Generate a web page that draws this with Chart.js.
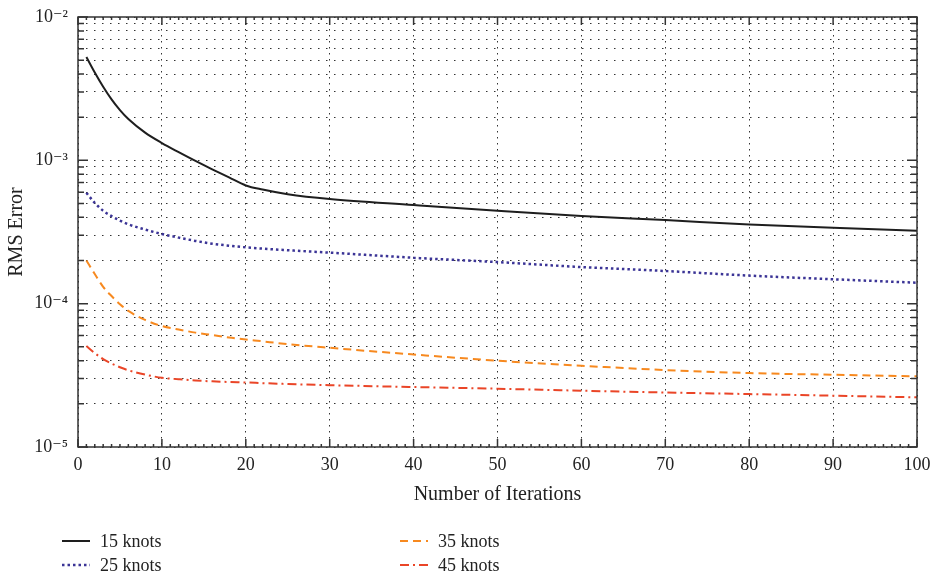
<!DOCTYPE html>
<html>
<head>
<meta charset="utf-8">
<title>RMS Error vs Number of Iterations</title>
<script src="https://cdn.jsdelivr.net/npm/chart.js"></script>
<style>
  body { margin: 0; background: #fff; }
  .wrap { position: relative; width: 935px; height: 579px; }
  .legend { position: absolute; left: 0; top: 0; width: 935px; height: 579px; pointer-events: none;
            font-family: "Liberation Serif", "DejaVu Serif", serif; font-size: 18px; color: #222; }
  .legend .item { position: absolute; display: flex; align-items: center; white-space: nowrap; }
  .legend svg { margin-right: 10px; }
</style>
</head>
<body>
<div class="wrap">
  <canvas id="rmsChart"></canvas>
  <div class="legend" id="legend"></div>
</div>
<script>
/* eslint-disable*/

const iterations = [1, 2, 3, 4, 5, 6, 8, 10, 12, 14, 16, 18, 20, 22, 25, 30, 40, 50, 60, 70, 80, 90, 100];

const knots15 = [5.26e-3, 4.1e-3, 3.26e-3, 2.66e-3, 2.24e-3, 1.94e-3, 1.56e-3, 1.32e-3, 1.14e-3, 0.99e-3, 0.865e-3, 0.76e-3, 0.668e-3, 0.625e-3, 0.58e-3, 0.537e-3, 0.488e-3, 0.445e-3, 0.409e-3, 0.383e-3, 0.357e-3, 0.338e-3, 0.323e-3];
const knots25 = [5.94e-4, 5.04e-4, 4.45e-4, 4.08e-4, 3.8e-4, 3.58e-4, 3.29e-4, 3.06e-4, 2.89e-4, 2.74e-4, 2.62e-4, 2.54e-4, 2.47e-4, 2.42e-4, 2.36e-4, 2.27e-4, 2.09e-4, 1.95e-4, 1.8e-4, 1.69e-4, 1.57e-4, 1.48e-4, 1.4e-4];
const knots35 = [2.0e-4, 1.61e-4, 1.31e-4, 1.13e-4, 9.9e-5, 8.9e-5, 7.7e-5, 6.98e-5, 6.6e-5, 6.28e-5, 6.04e-5, 5.8e-5, 5.63e-5, 5.46e-5, 5.22e-5, 4.92e-5, 4.42e-5, 4.0e-5, 3.69e-5, 3.44e-5, 3.28e-5, 3.19e-5, 3.11e-5];
const knots45 = [5.06e-5, 4.52e-5, 4.1e-5, 3.82e-5, 3.6e-5, 3.43e-5, 3.2e-5, 3.04e-5, 2.97e-5, 2.91e-5, 2.87e-5, 2.84e-5, 2.82e-5, 2.79e-5, 2.75e-5, 2.7e-5, 2.62e-5, 2.55e-5, 2.47e-5, 2.4e-5, 2.34e-5, 2.28e-5, 2.22e-5];

const seriesLabels = ['15 knots', '25 knots', '35 knots', '45 knots'];

const yTickValues = [1e-5, 1e-4, 1e-3, 1e-2];
const yTickLabels = ['10⁻⁵', '10⁻⁴', '10⁻³', '10⁻²'];

const serif = '"Liberation Serif", "DejaVu Serif", serif';

const styles = [
  { color: '#1e1e1e', dash: [], width: 2 },
  { color: '#3b3496', dash: [2.5, 3], width: 2.5 },
  { color: '#f7891f', dash: [8, 5], width: 2 },
  { color: '#ea4527', dash: [9, 4, 2, 4], width: 2 },
];

function points(values) {
  return iterations.map((x, i) => ({ x: x, y: values[i] }));
}

const allSeries = [knots15, knots25, knots35, knots45];

const datasets = allSeries.map((s, i) => ({
  label: seriesLabels[i],
  data: points(s),
  borderColor: styles[i].color,
  borderDash: styles[i].dash,
  borderWidth: styles[i].width,
  pointRadius: 0,
  fill: false,
  cubicInterpolationMode: 'monotone',
}));

function isDecade(v) {
  const l = Math.log10(v);
  return Math.abs(l - Math.round(l)) < 1e-6;
}

// 1..9 in each decade, like a plain log axis
function logTicks() {
  const out = [];
  for (let d = 0; d < yTickValues.length - 1; d++) {
    for (let m = 1; m <= 9; m++) out.push({ value: yTickValues[d] * m });
  }
  out.push({ value: yTickValues[yTickValues.length - 1] });
  return out;
}

// box round the plot and the inward ticks on all four sides
const frame = {
  id: 'frame',
  afterDraw(chart) {
    const { ctx, chartArea: a, scales } = chart;
    const x = scales.x, y = scales.y;
    ctx.save();
    ctx.strokeStyle = '#333';
    ctx.lineWidth = 1.5;
    ctx.setLineDash([]);
    ctx.strokeRect(a.left, a.top, a.right - a.left, a.bottom - a.top);
    ctx.beginPath();
    y.ticks.forEach((t) => {
      const py = y.getPixelForValue(t.value);
      const len = isDecade(t.value) ? 10 : 6;
      ctx.moveTo(a.left, py); ctx.lineTo(a.left + len, py);
      ctx.moveTo(a.right - len, py); ctx.lineTo(a.right, py);
    });
    for (let v = 0; v <= 100; v++) {
      const px = x.getPixelForValue(v);
      const len = v % 10 === 0 ? 8 : 3;
      ctx.moveTo(px, a.bottom); ctx.lineTo(px, a.bottom - len);
      ctx.moveTo(px, a.top); ctx.lineTo(px, a.top + len);
    }
    ctx.stroke();
    ctx.restore();
  },
};

const ctx = document.getElementById('rmsChart');

const myChart = new Chart(ctx, {
  type: 'line',
  data: { datasets: datasets },
  options: {
    responsive: true,
    maintainAspectRatio: false,
    animation: false,
    layout: { padding: { left: 0, top: 17, right: 18, bottom: 72 } },
    plugins: {
      legend: { display: false },
      tooltip: { enabled: false },
    },
    scales: {
      x: {
        type: 'linear',
        min: 0,
        max: 100,
        afterFit: (scale) => {
          scale.height = 60;
          scale.paddingLeft = 0;
          scale.paddingRight = 0;
        },
        ticks: {
          stepSize: 10,
          padding: 7,
          color: '#222',
          font: { family: serif, size: 18 },
        },
        grid: { drawTicks: false, color: '#333', lineWidth: 1 },
        border: { display: false, dash: [1.5, 4.5] },
        title: {
          display: true,
          text: 'Number of Iterations',
          color: '#222',
          font: { family: serif, size: 20 },
          padding: { top: 0, bottom: 0 },
        },
      },
      y: {
        type: 'logarithmic',
        min: 1e-5,
        max: 1e-2,
        afterFit: (scale) => {
          scale.width = 78;
          scale.paddingTop = 0;
          scale.paddingBottom = 0;
        },
        afterBuildTicks: (scale) => { scale.ticks = logTicks(); },
        ticks: {
          autoSkip: false,
          padding: 10,
          color: '#222',
          font: { family: serif, size: 18 },
          callback: (v) => {
            const i = yTickValues.findIndex((t) => Math.abs(Math.log10(v) - Math.log10(t)) < 1e-6);
            return i >= 0 ? yTickLabels[i] : '';
          },
        },
        grid: { drawTicks: false, color: '#333', lineWidth: 1 },
        border: { display: false, dash: [1.5, 6.5] },
        title: {
          display: true,
          text: 'RMS Error',
          color: '#222',
          font: { family: serif, size: 20 },
          padding: { top: 5, bottom: 0 },
        },
      },
    },
  },
  plugins: [frame],
});

// legend below the plot, two columns
const legendPos = [
  { left: 62, top: 541 },
  { left: 62, top: 565 },
  { left: 400, top: 541 },
  { left: 400, top: 565 },
];
const legend = document.getElementById('legend');
seriesLabels.forEach((label, i) => {
  const st = styles[i];
  const item = document.createElement('div');
  item.className = 'item';
  item.style.left = legendPos[i].left + 'px';
  item.style.top = (legendPos[i].top - 11) + 'px';
  item.style.height = '22px';
  item.innerHTML =
    '<svg width="28" height="6"><line x1="0" y1="3" x2="28" y2="3" stroke="' + st.color +
    '" stroke-width="' + st.width + '" stroke-dasharray="' + (st.dash.length ? st.dash.join(',') : 'none') +
    '"/></svg><span>' + label + '</span>';
  legend.appendChild(item);
});
</script>
</body>
</html>
